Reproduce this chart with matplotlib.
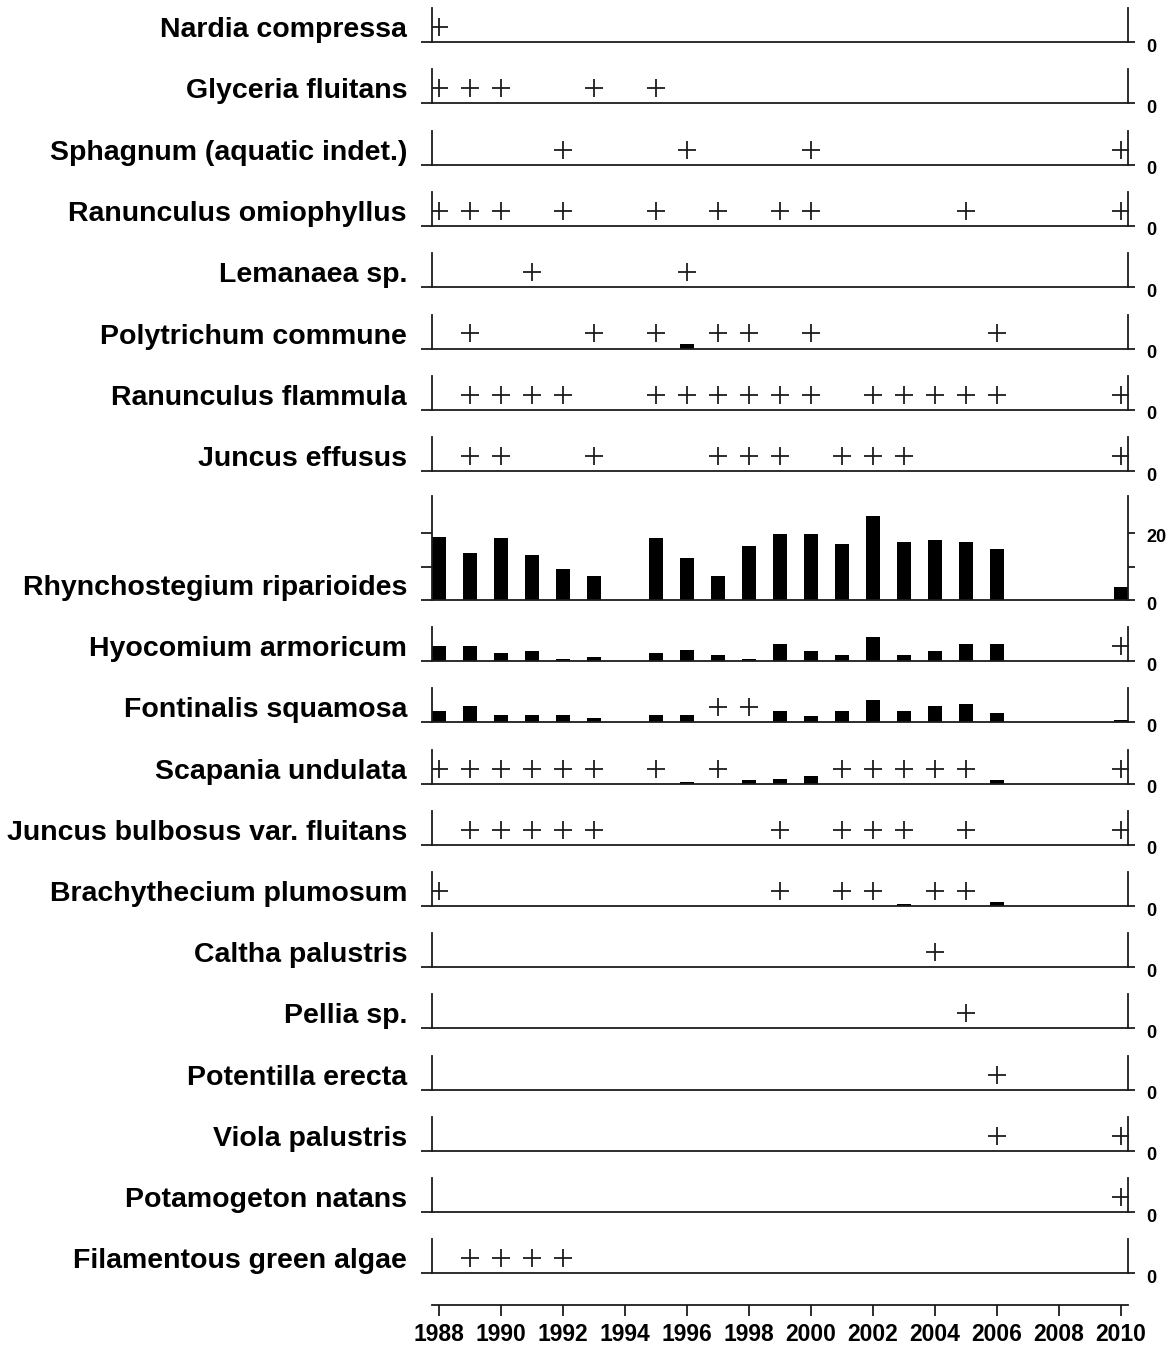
"""
Species occurrence / cover by year, one strip per taxon
"""

import matplotlib
matplotlib.use("Agg")
import matplotlib.pyplot as plt
import matplotlib.transforms as mtransforms
from matplotlib import font_manager


# ---- data ---------------------------------------------------------------
YEARS = list(range(1988, 2011))

species = [
    "Nardia compressa",
    "Glyceria fluitans",
    "Sphagnum (aquatic indet.)",
    "Ranunculus omiophyllus",
    "Lemanaea sp.",
    "Polytrichum commune",
    "Ranunculus flammula",
    "Juncus effusus",
    "Rhynchostegium riparioides",
    "Hyocomium armoricum",
    "Fontinalis squamosa",
    "Scapania undulata",
    "Juncus bulbosus var. fluitans",
    "Brachythecium plumosum",
    "Caltha palustris",
    "Pellia sp.",
    "Potentilla erecta",
    "Viola palustris",
    "Potamogeton natans",
    "Filamentous green algae",
]

# years where the taxon was present but not quantified ("+")
present_years = [
    [1988],
    [1988, 1989, 1990, 1993, 1995],
    [1992, 1996, 2000, 2010],
    [1988, 1989, 1990, 1992, 1995, 1997, 1999, 2000, 2005, 2010],
    [1991, 1996],
    [1989, 1993, 1995, 1997, 1998, 2000, 2006],
    [1989, 1990, 1991, 1992, 1995, 1996, 1997, 1998, 1999, 2000,
     2002, 2003, 2004, 2005, 2006, 2010],
    [1989, 1990, 1993, 1997, 1998, 1999, 2001, 2002, 2003, 2010],
    [],
    [2010],
    [1997, 1998],
    [1988, 1989, 1990, 1991, 1992, 1993, 1995, 1997, 2001, 2002,
     2003, 2004, 2005, 2010],
    [1989, 1990, 1991, 1992, 1993, 1999, 2001, 2002, 2003, 2005, 2010],
    [1988, 1999, 2001, 2002, 2004, 2005],
    [2004],
    [2005],
    [2006],
    [2006, 2010],
    [2010],
    [1989, 1990, 1991, 1992],
]

# cover values, one per year 1988..2010
rhynchostegium_cover = [18.8, 14.0, 18.5, 13.4, 9.3, 7.2, 0, 18.5, 12.5, 7.2,
                        16.1, 19.7, 19.7, 16.7, 25.1, 17.3, 17.9, 17.3, 15.2,
                        0, 0, 0, 3.9]
hyocomium_cover = [4.5, 4.5, 2.4, 3.0, 0.7, 1.3, 0, 2.4, 3.4, 1.8, 0.7, 5.1,
                   3.0, 1.8, 7.2, 1.8, 3.0, 5.1, 5.1, 0, 0, 0, 0]
fontinalis_cover = [3.4, 5.0, 2.3, 2.3, 2.3, 1.3, 0, 2.3, 2.3, 0, 0, 3.4,
                    1.8, 3.4, 6.6, 3.4, 5.0, 5.5, 2.8, 0, 0, 0, 0.8]
scapania_cover = [0, 0, 0, 0, 0, 0, 0, 0, 0.6, 0, 1.0, 1.5, 2.4, 0, 0, 0,
                  0, 0, 1.0, 0, 0, 0, 0]
polytrichum_cover = [0, 0, 0, 0, 0, 0, 0, 0, 1.2, 0, 0, 0, 0, 0, 0, 0, 0,
                     0, 0, 0, 0, 0, 0]
brachythecium_cover = [0, 0, 0, 0, 0, 0, 0, 0, 0, 0, 0, 0, 0, 0, 0, 0.7, 0,
                       0, 1.2, 0, 0, 0, 0]

cover = {
    "Rhynchostegium riparioides": rhynchostegium_cover,
    "Hyocomium armoricum": hyocomium_cover,
    "Fontinalis squamosa": fontinalis_cover,
    "Scapania undulata": scapania_cover,
    "Polytrichum commune": polytrichum_cover,
    "Brachythecium plumosum": brachythecium_cover,
}

BIG = "Rhynchostegium riparioides"
year_ticks = list(range(1988, 2011, 2))

# ---- layout (pixels) ----------------------------------------------------
W, H = 1172, 1350
X0, X1 = 432, 1128
PX_PER_UNIT = 3.35
SMALL_H, BIG_H = 34, 104
XMIN, XMAX = 1988 - 7 / 31, 2010 + 7 / 31
PLUS_Y = 4.5
INK = "#1c1c1c"
LW = 1.3

installed = {f.name for f in font_manager.fontManager.ttflist}
if "Liberation Sans Narrow" in installed:
    num_family, num_size = "Liberation Sans Narrow", 19
else:
    num_family, num_size = "Liberation Sans", 16.5

baselines = [42 + 61.3 * i for i in range(8)] + [600] + \
            [600 + 61.2 * k for k in range(1, 12)]

fig = plt.figure(figsize=(W / 100, H / 100), dpi=100)

for name, base, plus in zip(species, baselines, present_years):
    h = BIG_H if name == BIG else SMALL_H
    rect = [X0 / W, 1 - base / H, (X1 - X0) / W, h / H]
    ax = fig.add_axes(rect)
    ax.set_xlim(XMIN, XMAX)
    ax.set_ylim(0, h / PX_PER_UNIT)
    ax.patch.set_alpha(0)

    if name in cover:
        ax.bar(YEARS, cover[name], width=0.45, color="black", linewidth=0)
    if plus:
        ax.plot(plus, [PLUS_Y] * len(plus), linestyle="none", marker="+",
                markersize=13, markeredgewidth=LW, color=INK)

    ax.spines["top"].set_visible(False)
    for side in ("left", "right", "bottom"):
        ax.spines[side].set_linewidth(LW)
        ax.spines[side].set_color(INK)

    ax.set_xticks([])
    yt = [0, 10, 20] if name == BIG else [0]
    ax.set_yticks(yt)
    ax.tick_params(axis="y", direction="out", left=True, right=True,
                   labelleft=False, labelright=False, length=8,
                   width=LW, color=INK)
    for t in ax.yaxis.get_major_ticks():
        t.tick2line.set_markersize(5)

    # right-hand scale labels
    trans = mtransforms.blended_transform_factory(ax.transAxes, ax.transData)
    trans = mtransforms.offset_copy(trans, fig=fig, x=18, y=-5, units="dots")
    for v in ([0, 20] if name == BIG else [0]):
        ax.text(1, v, str(v), transform=trans, ha="left", va="center",
                fontsize=13, fontweight="bold", family=num_family)

    fig.text(407 / W, 1 - (base - 5) / H, name, ha="right", va="baseline",
             fontsize=20.5, fontweight="bold", family="Liberation Sans")

# shared year axis
axx = fig.add_axes([X0 / W, 1 - 1305 / H, (X1 - X0) / W, 0.0001])
axx.set_xlim(XMIN, XMAX)
for side in ("left", "right", "top"):
    axx.spines[side].set_visible(False)
axx.spines["bottom"].set_linewidth(LW)
axx.spines["bottom"].set_color(INK)
axx.set_yticks([])
axx.set_xticks(year_ticks)
axx.set_xticklabels([str(y) for y in year_ticks], fontweight="bold",
                    fontsize=num_size, family=num_family)
axx.tick_params(axis="x", direction="out", length=8, width=LW, color=INK,
                pad=5)

fig.savefig("out.png", dpi=100)
